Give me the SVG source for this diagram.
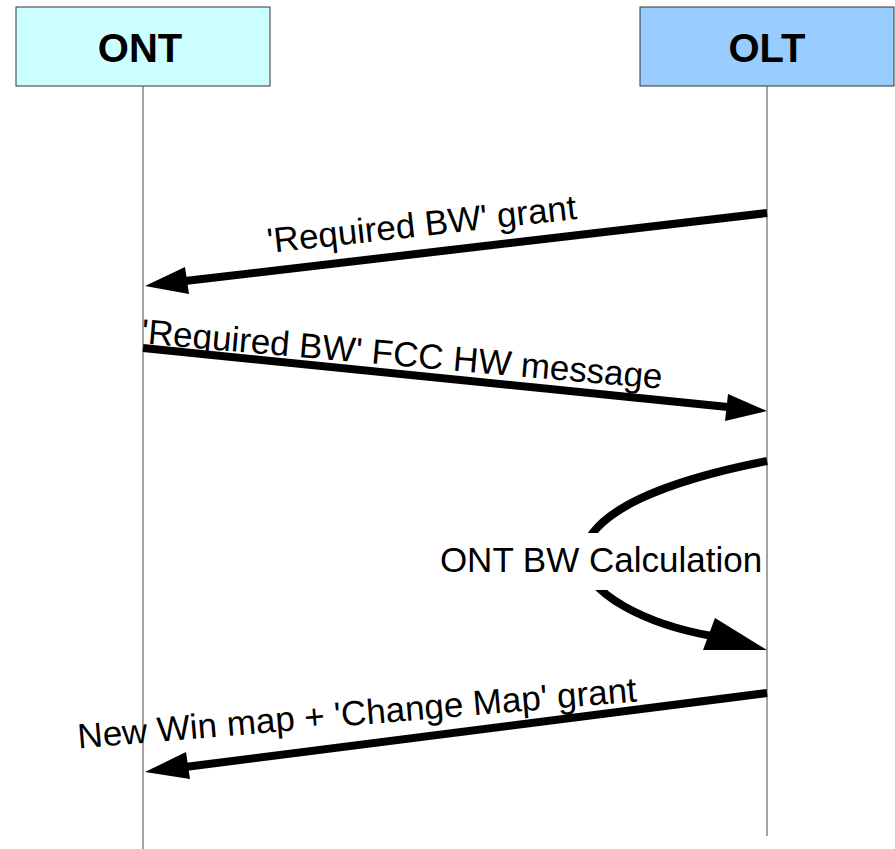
<svg xmlns="http://www.w3.org/2000/svg" width="895" height="849" viewBox="0 0 895 849">
<style>
.box{stroke:#333;stroke-width:1}
.title{font-family:"Liberation Sans",Arial,sans-serif;font-weight:bold;font-size:40px;fill:#000;text-anchor:middle}
.life{stroke:#666;stroke-width:1.2;fill:none}
.msg{stroke:#000;stroke-width:8;fill:none}
.head{fill:#000}
.lbl{font-family:"Liberation Sans",Arial,sans-serif;font-size:35px;fill:#000;text-anchor:middle}
</style>
<rect width="895" height="849" fill="#fff"/>
<g id="ONT">
<rect class="box" x="16" y="7" width="254" height="79" fill="#ccffff"/>
<text class="title" x="140" y="62">ONT</text>
<line class="life" x1="143" y1="86" x2="143" y2="849"/>
</g>
<g id="OLT">
<rect class="box" x="640" y="7" width="254" height="79" fill="#99ccff"/>
<text class="title" x="767" y="62">OLT</text>
<line class="life" x1="767" y1="86" x2="767" y2="836"/>
</g>
<g id="connectors">
<g id="m1">
<line class="msg" x1="767" y1="213" x2="185" y2="281"/>
<polygon class="head" points="145,286 185,267 189,294"/>
<text class="lbl" transform="translate(423,236) rotate(-6.3)">'Required BW' grant</text>
</g>
<g id="m2">
<line class="msg" x1="143" y1="348" x2="728" y2="407"/>
<polygon class="head" points="767,411 728,394 725,421"/>
<text class="lbl" transform="translate(401,366) rotate(5)">'Required BW' FCC HW message</text>
</g>
<g id="m3">
<path class="msg" d="M767,461 C670,480 590,510 583,555 C583,595 650,625 712,636"/>
<polygon class="head" points="767,650 703,650 715,618"/>
<rect x="438" y="533" width="324" height="57" fill="#fff"/>
<text class="lbl" x="601" y="572">ONT BW Calculation</text>
</g>
<g id="m4">
<line class="msg" x1="767" y1="693" x2="185" y2="767"/>
<polygon class="head" points="145,772 186,752 190,779"/>
<text class="lbl" transform="translate(358,725) rotate(-4.8)">New Win map + 'Change Map' grant</text>
</g>
</g>
</svg>
